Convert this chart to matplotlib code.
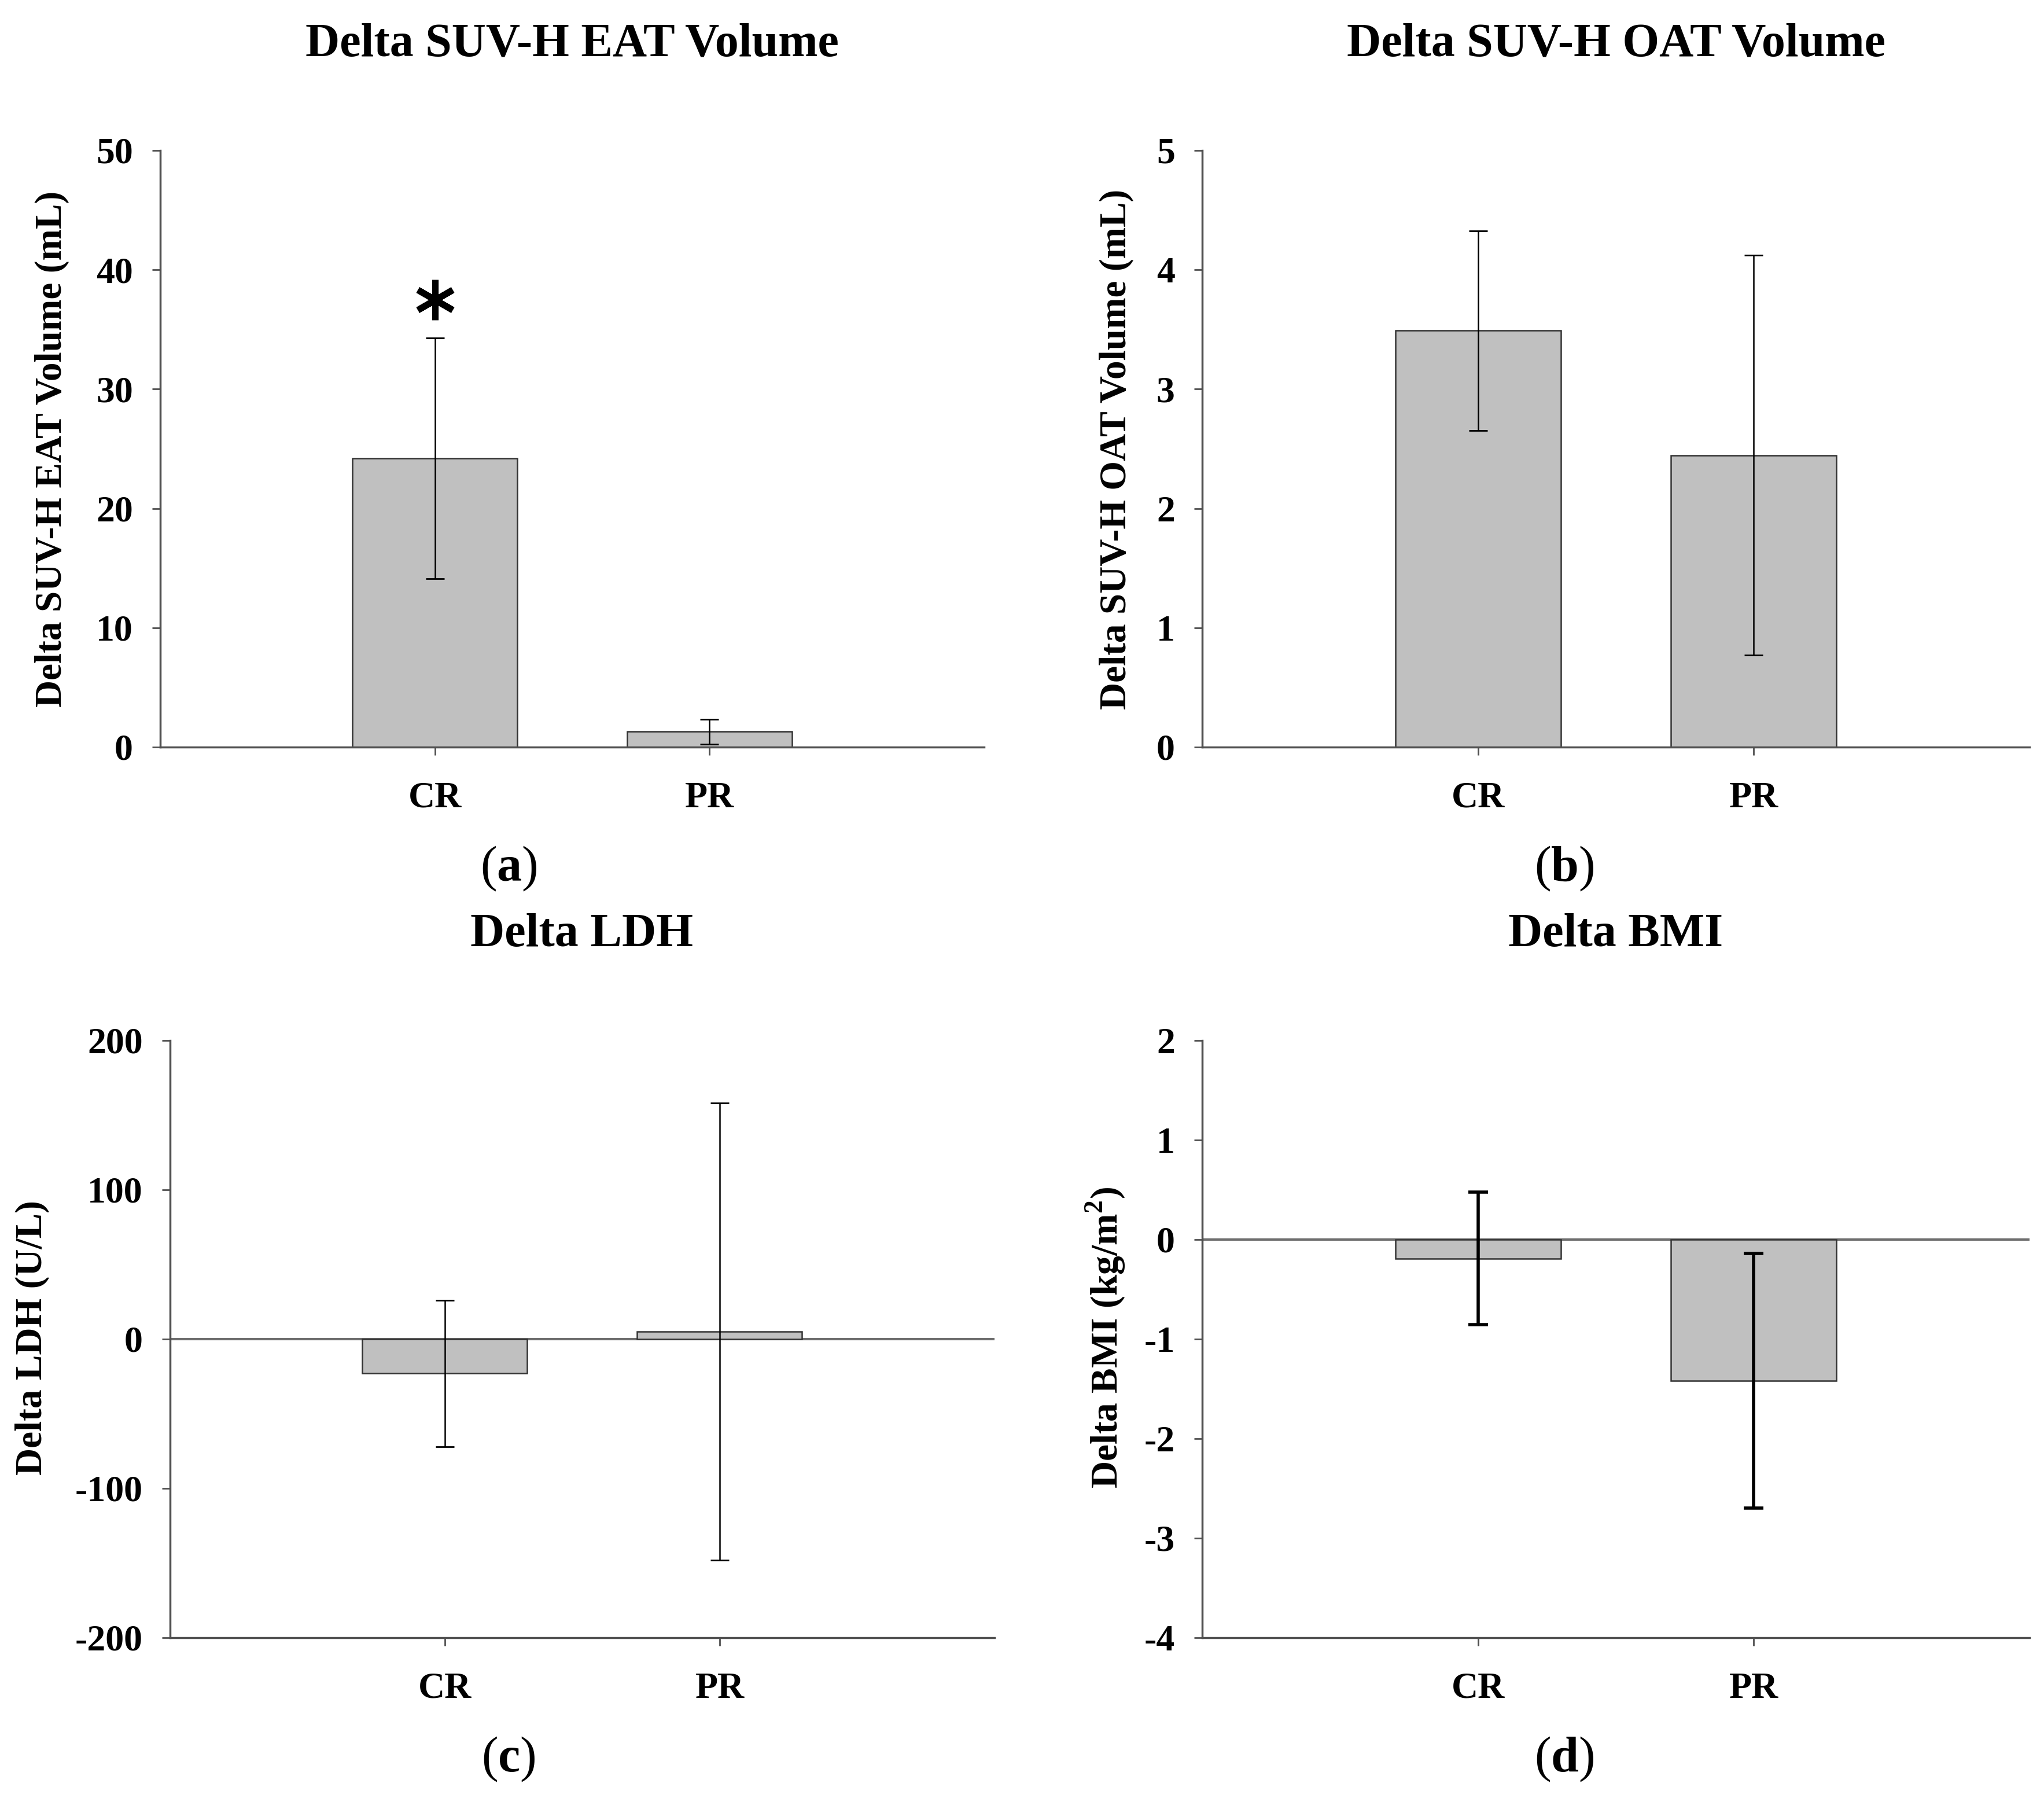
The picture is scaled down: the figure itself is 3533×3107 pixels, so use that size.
import matplotlib
matplotlib.use("Agg")
import matplotlib.pyplot as plt
from matplotlib.markers import MarkerStyle

# group names and values
groups = ["CR", "PR"]
eat_mean = [24.2, 1.3]
eat_err = [10.1, 1.05]
oat_mean = [3.49, 2.445]
oat_err = [0.835, 1.675]
ldh_mean = [-23, 5]
ldh_err = [49, 153]
bmi_mean = [-0.19, -1.42]
bmi_err = [0.665, 1.28]

plt.rcParams['font.family'] = ['Liberation Serif', 'DejaVu Serif']
plt.rcParams['font.weight'] = 'bold'
plt.rcParams['axes.unicode_minus'] = False
plt.rcParams['mathtext.fontset'] = 'custom'
plt.rcParams['mathtext.rm'] = 'Liberation Serif:normal'
plt.rcParams['mathtext.bf'] = 'Liberation Serif:bold'

W, H = 3533, 3107
fig = plt.figure(figsize=(W / 100, H / 100), dpi=100)

spine_col = '#505050'
tick_size = 46


# draw one bar panel with error bars
def draw_panel(rect, means, errs, ylim, yticks, err_lw, capsize, capthick):
    ax = fig.add_axes(rect)
    x = [1, 2]
    ax.bar(x, means, width=0.6, color='#c0c0c0', edgecolor='#333333',
           linewidth=1.8, zorder=2)
    ax.errorbar(x, means, yerr=errs, fmt='none', ecolor='black',
                elinewidth=err_lw, capsize=capsize, capthick=capthick, zorder=3)
    if ylim[0] < 0:
        ax.axhline(0, color='#6e6e6e', linewidth=3, zorder=1)
    ax.set_xlim(0, 3)
    ax.set_ylim(ylim)
    ax.set_yticks(yticks)
    ax.set_xticks(x)
    ax.set_xticklabels(groups)
    for s in ['top', 'right']:
        ax.spines[s].set_visible(False)
    for s in ['left', 'bottom']:
        ax.spines[s].set_color(spine_col)
        ax.spines[s].set_linewidth(2.5)
    ax.tick_params(axis='both', direction='out', length=10, width=2,
                   color=spine_col, labelsize=tick_size)
    ax.tick_params(axis='y', pad=24)
    ax.tick_params(axis='x', pad=33)
    for lab in ax.get_xticklabels() + ax.get_yticklabels():
        lab.set_fontweight('bold')
    return ax


def fx(px):
    return px / W


def fy(py):
    return 1 - py / H


top_row = [fy(1291), 1031 / H]
bot_row = [fy(2830), 1032 / H]

ax_a = draw_panel([fx(277), top_row[0], 1424 / W, top_row[1]], eat_mean, eat_err,
                  (0, 50), range(0, 51, 10), 1.8, 11.5, 2)
ax_b = draw_panel([fx(2078), top_row[0], 1430 / W, top_row[1]], oat_mean, oat_err,
                  (0, 5), range(0, 6), 1.8, 11.5, 2)
ax_c = draw_panel([fx(294), bot_row[0], 1425 / W, bot_row[1]], ldh_mean, ldh_err,
                  (-200, 200), range(-200, 201, 100), 1.8, 11.5, 2)
ax_d = draw_panel([fx(2078), bot_row[0], 1430 / W, bot_row[1]], bmi_mean, bmi_err,
                  (-4, 2), range(-4, 3), 4, 12.5, 4)

# significance marker above CR bar
star = MarkerStyle((6, 2, 0), capstyle='round')
ax_a.plot([1], [eat_mean[0] + eat_err[0] + 3.2], marker=star, markersize=50,
          markeredgewidth=8, color='black', linestyle='none', zorder=4)

# titles
fig.text(fx(989), fy(96), "Delta SUV-H EAT Volume", ha='center', va='baseline',
         fontsize=59, fontweight='bold')
fig.text(fx(2793), fy(96), "Delta SUV-H OAT Volume", ha='center', va='baseline',
         fontsize=59, fontweight='bold')
fig.text(fx(1006), fy(1635), "Delta LDH", ha='center', va='baseline',
         fontsize=59, fontweight='bold')
fig.text(fx(2793), fy(1635), "Delta BMI", ha='center', va='baseline',
         fontsize=59, fontweight='bold')

# y axis labels
fig.text(fx(90), fy(776), "Delta SUV-H EAT Volume (mL)", rotation=90,
         ha='center', va='center', fontsize=47, fontweight='bold')
fig.text(fx(1930), fy(776), "Delta SUV-H OAT Volume (mL)", rotation=90,
         ha='center', va='center', fontsize=47, fontweight='bold')
fig.text(fx(56), fy(2312), "Delta LDH (U/L)", rotation=90,
         ha='center', va='center', fontsize=47, fontweight='bold')
fig.text(fx(1911), fy(2312), r"Delta BMI (kg/m$^{\mathbf{2}}$)", rotation=90,
         ha='center', va='center', fontsize=47, fontweight='bold')

# panel letters
for px, py, letter in [(879, 1501, 'a'), (2704, 1501, 'b'),
                       (879, 3040, 'c'), (2704, 3040, 'd')]:
    fig.text(fx(px), fy(py), r"$\mathrm{(}\mathbf{" + letter + r"}\mathrm{)}$",
             ha='center', va='center', fontsize=62)

fig.savefig("out.png", dpi=100, facecolor='white')
